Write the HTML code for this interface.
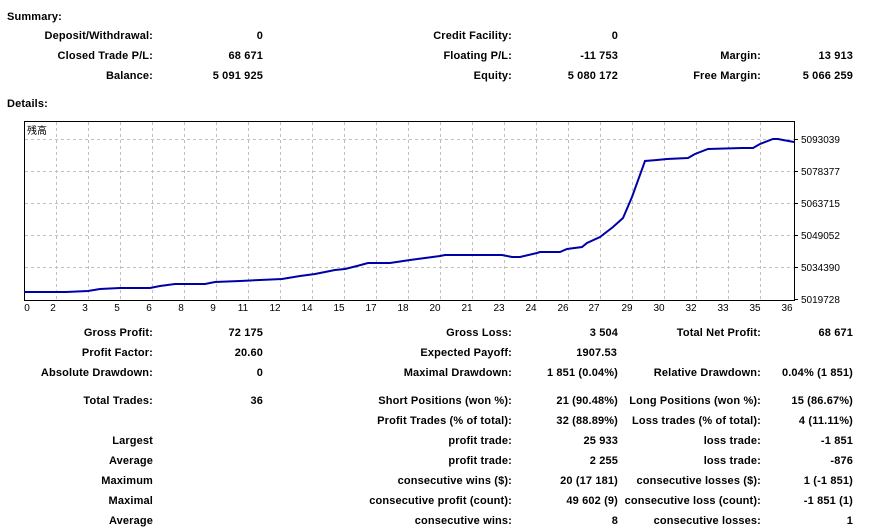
<!DOCTYPE html>
<html><head><meta charset="utf-8"><style>
body{margin:0;width:873px;height:532px;background:#fff;position:relative;overflow:hidden;font-family:"Liberation Sans",Arial,sans-serif;}
.t{position:absolute;font-size:11px;font-weight:bold;line-height:14px;white-space:nowrap;color:#000;margin-top:1px;letter-spacing:0.15px}
.r{text-align:right}
</style></head><body>
<div class="t" style="left:7px;top:9px">Summary:</div>
<div class="t" style="left:7px;top:96px">Details:</div>

<div class="t r" style="right:720px;top:28px">Deposit/Withdrawal:</div>
<div class="t r" style="right:610px;top:28px">0</div>
<div class="t r" style="right:361px;top:28px">Credit Facility:</div>
<div class="t r" style="right:255px;top:28px">0</div>

<div class="t r" style="right:720px;top:48px">Closed Trade P/L:</div>
<div class="t r" style="right:610px;top:48px">68 671</div>
<div class="t r" style="right:361px;top:48px">Floating P/L:</div>
<div class="t r" style="right:255px;top:48px">-11 753</div>
<div class="t r" style="right:112px;top:48px">Margin:</div>
<div class="t r" style="right:20px;top:48px">13 913</div>

<div class="t r" style="right:720px;top:68px">Balance:</div>
<div class="t r" style="right:610px;top:68px">5 091 925</div>
<div class="t r" style="right:361px;top:68px">Equity:</div>
<div class="t r" style="right:255px;top:68px">5 080 172</div>
<div class="t r" style="right:112px;top:68px">Free Margin:</div>
<div class="t r" style="right:20px;top:68px">5 066 259</div>

<svg style="position:absolute;left:0;top:0" width="873" height="532">
<g stroke="#c0c0c0" stroke-dasharray="3,3" stroke-width="1">
<path d="M56.5 122V300M88.5 122V300M120.5 122V300M152.5 122V300M184.5 122V300M216.5 122V300M248.5 122V300M280.5 122V300M312.5 122V300M344.5 122V300M376.5 122V300M408.5 122V300M440.5 122V300M472.5 122V300M504.5 122V300M536.5 122V300M568.5 122V300M600.5 122V300M632.5 122V300M664.5 122V300M696.5 122V300M728.5 122V300M760.5 122V300"/>
<path d="M25 139.5H794M25 171.5H794M25 203.5H794M25 235.5H794M25 267.5H794"/>
</g>
<rect x="24.5" y="121.5" width="770" height="179" fill="none" stroke="#000"/>
<g stroke="#000"><path d="M795 139.5h3M795 171.5h3M795 203.5h3M795 235.5h3M795 267.5h3M795 299.5h3"/></g>
<polyline fill="none" stroke="#0000a8" stroke-width="2" points="24,292 66,292 88,291 100,289 120,288 150,288 160,286 175,284 205,284 215,282 240,281 260,280 282,279 300,276 315,274 335,270 345,269 357,266 368,263 390,263 410,260 440,256 445,255 502,255 512,257 520,257 537,253 540,252 560,252 567,249 582,247 587,243 600,237 613,227 623,218 632,197 645,161 657,160 667,159 688,158 695,154 708,149 742,148 753,148 760,144 773,139 778,139 783,140 794,142"/>
<text x="27" y="134" font-size="10" font-family="Noto Sans CJK JP,sans-serif">残高</text>
<g font-size="10" font-family="Liberation Sans,sans-serif" fill="#000">
<text x="801" y="143">5093039</text><text x="801" y="175">5078377</text><text x="801" y="207">5063715</text><text x="801" y="239">5049052</text><text x="801" y="271">5034390</text><text x="801" y="303">5019728</text>
</g>
<g font-size="10" font-family="Liberation Sans,sans-serif" text-anchor="middle">
<text x="27" y="311">0</text><text x="53" y="311">2</text><text x="85" y="311">3</text><text x="117" y="311">5</text><text x="149" y="311">6</text><text x="181" y="311">8</text><text x="213" y="311">9</text><text x="243" y="311">11</text><text x="275" y="311">12</text><text x="307" y="311">14</text><text x="339" y="311">15</text><text x="371" y="311">17</text><text x="403" y="311">18</text><text x="435" y="311">20</text><text x="467" y="311">21</text><text x="499" y="311">23</text><text x="531" y="311">24</text><text x="563" y="311">26</text><text x="594" y="311">27</text><text x="627" y="311">29</text><text x="659" y="311">30</text><text x="691" y="311">32</text><text x="723" y="311">33</text><text x="755" y="311">35</text><text x="787" y="311">36</text>
</g>
</svg>

<div class="t r" style="right:720px;top:325px">Gross Profit:</div>
<div class="t r" style="right:610px;top:325px">72 175</div>
<div class="t r" style="right:361px;top:325px">Gross Loss:</div>
<div class="t r" style="right:255px;top:325px">3 504</div>
<div class="t r" style="right:112px;top:325px">Total Net Profit:</div>
<div class="t r" style="right:20px;top:325px">68 671</div>

<div class="t r" style="right:720px;top:345px">Profit Factor:</div>
<div class="t r" style="right:610px;top:345px">20.60</div>
<div class="t r" style="right:361px;top:345px">Expected Payoff:</div>
<div class="t r" style="right:256px;top:345px">1907.53</div>

<div class="t r" style="right:720px;top:365px">Absolute Drawdown:</div>
<div class="t r" style="right:610px;top:365px">0</div>
<div class="t r" style="right:361px;top:365px">Maximal Drawdown:</div>
<div class="t r" style="right:255px;top:365px">1 851 (0.04%)</div>
<div class="t r" style="right:112px;top:365px">Relative Drawdown:</div>
<div class="t r" style="right:20px;top:365px">0.04% (1 851)</div>

<div class="t r" style="right:720px;top:393px">Total Trades:</div>
<div class="t r" style="right:610px;top:393px">36</div>
<div class="t r" style="right:361px;top:393px">Short Positions (won %):</div>
<div class="t r" style="right:255px;top:393px">21 (90.48%)</div>
<div class="t r" style="right:112px;top:393px">Long Positions (won %):</div>
<div class="t r" style="right:20px;top:393px">15 (86.67%)</div>

<div class="t r" style="right:361px;top:413px">Profit Trades (% of total):</div>
<div class="t r" style="right:255px;top:413px">32 (88.89%)</div>
<div class="t r" style="right:112px;top:413px">Loss trades (% of total):</div>
<div class="t r" style="right:20px;top:413px">4 (11.11%)</div>

<div class="t r" style="right:720px;top:433px">Largest</div>
<div class="t r" style="right:361px;top:433px">profit trade:</div>
<div class="t r" style="right:255px;top:433px">25 933</div>
<div class="t r" style="right:112px;top:433px">loss trade:</div>
<div class="t r" style="right:20px;top:433px">-1 851</div>

<div class="t r" style="right:720px;top:453px">Average</div>
<div class="t r" style="right:361px;top:453px">profit trade:</div>
<div class="t r" style="right:255px;top:453px">2 255</div>
<div class="t r" style="right:112px;top:453px">loss trade:</div>
<div class="t r" style="right:20px;top:453px">-876</div>

<div class="t r" style="right:720px;top:473px">Maximum</div>
<div class="t r" style="right:361px;top:473px">consecutive wins ($):</div>
<div class="t r" style="right:255px;top:473px">20 (17 181)</div>
<div class="t r" style="right:112px;top:473px">consecutive losses ($):</div>
<div class="t r" style="right:20px;top:473px">1 (-1 851)</div>

<div class="t r" style="right:720px;top:493px">Maximal</div>
<div class="t r" style="right:361px;top:493px">consecutive profit (count):</div>
<div class="t r" style="right:255px;top:493px">49 602 (9)</div>
<div class="t r" style="right:112px;top:493px">consecutive loss (count):</div>
<div class="t r" style="right:20px;top:493px">-1 851 (1)</div>

<div class="t r" style="right:720px;top:513px">Average</div>
<div class="t r" style="right:361px;top:513px">consecutive wins:</div>
<div class="t r" style="right:255px;top:513px">8</div>
<div class="t r" style="right:112px;top:513px">consecutive losses:</div>
<div class="t r" style="right:20px;top:513px">1</div>
</body></html>
